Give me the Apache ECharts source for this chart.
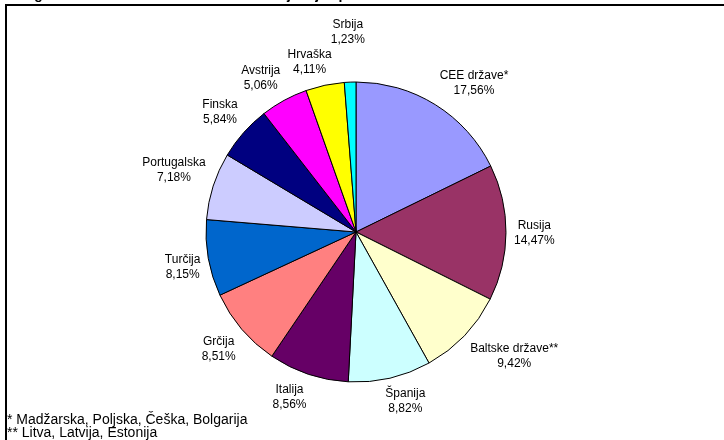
<!DOCTYPE html>
<html>
<head>
<meta charset="utf-8">
<script src="https://cdn.jsdelivr.net/npm/echarts@6/dist/echarts.min.js"></script>
<style>
  html, body { margin: 0; padding: 0; background: #fff; }
  #chart { width: 724px; height: 440px; }
</style>
</head>
<body>
<div id="chart"></div>
<script>
// podatki
const drzave = ['CEE države*', 'Rusija', 'Baltske države**', 'Španija', 'Italija', 'Grčija',
  'Turčija', 'Portugalska', 'Finska', 'Avstrija', 'Hrvaška', 'Srbija'];
const deleži = [17.56, 14.47, 9.42, 8.82, 8.56, 8.51, 8.15, 7.18, 5.84, 5.06, 4.11, 1.23];
const barve = ['#9999FF', '#993366', '#FFFFCC', '#CCFFFF', '#660066', '#FF8080',
  '#0066CC', '#CCCCFF', '#000080', '#FF00FF', '#FFFF00', '#00FFFF'];
const naslov = 'Geografska sestava naložb v domače izdajateljev po državah';
const opombe = ['* Madžarska, Poljska, Češka, Bolgarija', '** Litva, Latvija, Estonija'];

const CX = 356;
const CY = 232;
const R = 150;
const GAP = 8;
const font = '"Liberation Sans", Arial, sans-serif';

const chart = echarts.init(document.getElementById('chart'));
const vsota = deleži.reduce((a, b) => a + b, 0);

// label postavimo kot v excelu - vogal škatle ob žarku sredine izseka
const clamp = (t) => Math.max(-1, Math.min(1, t));
const zasedeno = []; // že postavljene labele
const postaviLabelo = (params) => {
  const i = params.dataIndex;
  let kum = 0;
  for (let k = 0; k < i; k++) kum += deleži[k];
  const kot = ((kum + deleži[i] / 2) / vsota) * Math.PI * 2;
  const dx = Math.sin(kot);
  const dy = -Math.cos(kot);
  const w = params.labelRect.width;
  const h = params.labelRect.height;
  const px = CX + (R + GAP) * dx;
  const py = CY + (R + GAP) * dy;
  let x = px + (w / 2) * clamp(dx * 3);
  let y = py + (h / 2) * clamp(dy * 3);
  // ce se prekriva s prejsnjo, jo potisnemo navzven
  zasedeno.forEach((r) => {
    if (Math.abs(x - r.x) < (w + r.w) / 2 && Math.abs(y - r.y) < (h + r.h) / 2) {
      y = dy < 0 ? r.y - (h + r.h) / 2 : r.y + (h + r.h) / 2;
    }
  });
  zasedeno[i] = { x, y, w, h };
  return { x, y, align: 'center', verticalAlign: 'middle' };
};

const option = {
  animation: false,
  backgroundColor: '#fff',
  graphic: [
    {
      type: 'rect',
      shape: { x: 6, y: 5, width: 800, height: 500 },
      style: { fill: null, stroke: '#000', lineWidth: 2 },
    },
    {
      type: 'text',
      left: 7,
      top: -12,
      style: { text: naslov, font: 'bold 14px ' + font, fill: '#000' },
    },
    {
      type: 'text',
      left: 7,
      top: 413,
      style: { text: opombe[0], font: '14px ' + font, fill: '#000' },
    },
    {
      type: 'text',
      left: 7,
      top: 426,
      style: { text: opombe[1], font: '14px ' + font, fill: '#000' },
    },
  ],
  series: [
    {
      type: 'pie',
      center: [CX, CY],
      radius: R,
      startAngle: 90,
      clockwise: true,
      color: barve,
      itemStyle: { borderColor: '#000', borderWidth: 1 },
      emphasis: { disabled: true },
      label: {
        show: true,
        position: 'outside',
        color: '#000',
        fontSize: 12,
        fontFamily: font,
        lineHeight: 15,
        align: 'center',
        formatter: (p) => `${p.name}\n${p.value.toFixed(2).replace('.', ',')}%`,
      },
      labelLine: { show: false },
      labelLayout: postaviLabelo,
      data: drzave.map((name, i) => ({ name, value: deleži[i] })),
    },
  ],
};
chart.setOption(option);
</script>
</body>
</html>
